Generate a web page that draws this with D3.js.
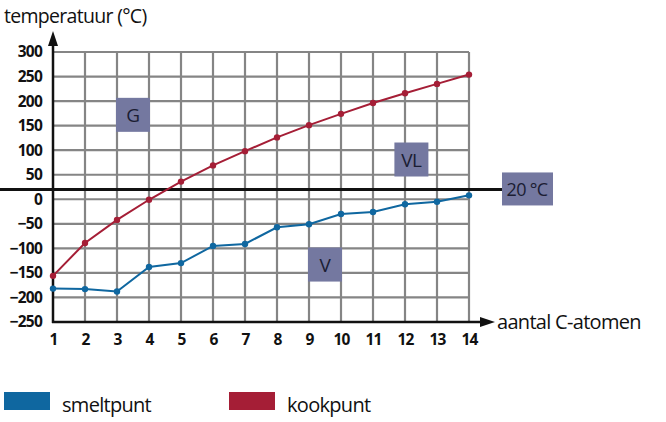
<!DOCTYPE html>
<html><head><meta charset="utf-8">
<script src="https://cdn.jsdelivr.net/npm/d3@7"></script>
<style>body{margin:0;background:#fff}svg{display:block}</style>
</head><body>
<svg id="c" width="666" height="422"></svg>
<script>
const atoms = [1,2,3,4,5,6,7,8,9,10,11,12,13,14];
const smeltpunt = [-182,-183,-188,-138,-130,-95,-91,-57,-51,-30,-26,-10,-5,8];
const kookpunt = [-156,-89,-42,-1,36,69,98,126,151,174,196,216,235,254];
const yTicks = [300,250,200,150,100,50,0,-50,-100,-150,-200,-250];
const phaseLabels = ["G","VL","V"];
const phasePos = [[3.5,172],[12.2,81],[9.5,-133]];
const roomTemp = 20;
const roomLabel = "20 °C";
const legendNames = ["smeltpunt","kookpunt"];

const svg = d3.select("#c");
const x = d3.scaleLinear().domain([1,14]).range([53,469]);
const y = d3.scaleLinear().domain([-250,300]).range([322,52]);
const grid = "#858585", blue = "#0f67a0", red = "#a51e36", boxc = "#7478a0";
const font = "'Open Sans', 'DejaVu Sans', sans-serif";

// grid
svg.append("g").selectAll("line").data(yTicks.filter(d=>d>-250)).join("line")
  .attr("x1",x(1)).attr("x2",x(14)).attr("y1",d=>y(d)).attr("y2",d=>y(d))
  .attr("stroke",grid).attr("stroke-width",2.2);
svg.append("g").selectAll("line").data(atoms.slice(1)).join("line")
  .attr("x1",d=>x(d)).attr("x2",d=>x(d)).attr("y1",y(300)).attr("y2",y(-250))
  .attr("stroke",grid).attr("stroke-width",2.2);

// axes
svg.append("line").attr("x1",x(1)).attr("x2",x(1)).attr("y1",y(-250)+1).attr("y2",44)
  .attr("stroke","#111").attr("stroke-width",2.5);
svg.append("path").attr("d",`M${x(1)},31 L${x(1)-5},46 L${x(1)+5},46 Z`).attr("fill","#111");
svg.append("line").attr("x1",x(1)-1).attr("x2",482).attr("y1",y(-250)).attr("y2",y(-250))
  .attr("stroke","#111").attr("stroke-width",2.5);
svg.append("path").attr("d",`M495,${y(-250)} L480,${y(-250)-5} L480,${y(-250)+5} Z`).attr("fill","#111");

// tick labels
const yAxis = d3.axisLeft(y).tickValues(yTicks).tickSize(0).tickPadding(11);
const ga = svg.append("g").attr("transform",`translate(${x(1)},0)`).call(yAxis);
ga.select(".domain").remove();
ga.selectAll("text").attr("font-family",font).attr("font-weight","bold").attr("font-size",15.5)
  .attr("letter-spacing","-0.8").attr("fill","#111");
const xAxis = d3.axisBottom(x).tickValues(atoms).tickFormat(d3.format("d")).tickSize(0).tickPadding(12);
const gx = svg.append("g").attr("transform",`translate(0,${y(-250)})`).call(xAxis);
gx.select(".domain").remove();
gx.selectAll("text").attr("font-family",font).attr("font-weight","bold").attr("font-size",15.5)
  .attr("letter-spacing","-0.8").attr("fill","#111");

// titles
svg.append("text").attr("x",4).attr("y",23).text("temperatuur (°C)")
  .attr("font-family",font).attr("font-size",19.5).attr("letter-spacing","-0.7").attr("fill","#111");
svg.append("text").attr("x",497).attr("y",y(-250)+7).text("aantal C-atomen")
  .attr("font-family",font).attr("font-size",20).attr("letter-spacing","-0.7").attr("fill","#111");

// phase boxes
phaseLabels.forEach((t,i)=>{
  const cx = x(phasePos[i][0]), cy = y(phasePos[i][1]);
  svg.append("rect").attr("x",cx-17).attr("y",cy-17).attr("width",34).attr("height",34).attr("fill",boxc);
  svg.append("text").attr("x",cx).attr("y",cy+7).attr("text-anchor","middle").text(t)
    .attr("font-family",font).attr("font-size",19).attr("letter-spacing","-0.5").attr("fill","#1b1d33");
});

// room temp line
svg.append("line").attr("x1",0).attr("x2",502).attr("y1",y(roomTemp)).attr("y2",y(roomTemp))
  .attr("stroke","#111").attr("stroke-width",3);
svg.append("rect").attr("x",502).attr("y",y(roomTemp)-17).attr("width",51).attr("height",33).attr("fill",boxc);
svg.append("text").attr("x",527).attr("y",y(roomTemp)+7).attr("text-anchor","middle").text(roomLabel)
  .attr("font-family",font).attr("font-size",18).attr("letter-spacing","-0.7").attr("fill","#1b1d33");

// series
const series = [{v:smeltpunt,c:blue},{v:kookpunt,c:red}];
series.forEach(s=>{
  const pts = atoms.map((a,i)=>[a,s.v[i]]);
  svg.append("path").datum(pts).attr("fill","none").attr("stroke",s.c).attr("stroke-width",2)
    .attr("d",d3.line().x(d=>x(d[0])).y(d=>y(d[1])));
  svg.append("g").selectAll("circle").data(pts).join("circle")
    .attr("cx",d=>x(d[0])).attr("cy",d=>y(d[1])).attr("r",3.2).attr("fill",s.c);
});

// legend
const lx = [4,229];
legendNames.forEach((n,i)=>{
  svg.append("rect").attr("x",lx[i]).attr("y",392).attr("width",46).attr("height",18).attr("fill",series[i].c);
  svg.append("text").attr("x",lx[i]+58).attr("y",412).text(n)
    .attr("font-family",font).attr("font-size",20).attr("letter-spacing","-0.7").attr("fill","#111");
});
</script>
</body></html>
